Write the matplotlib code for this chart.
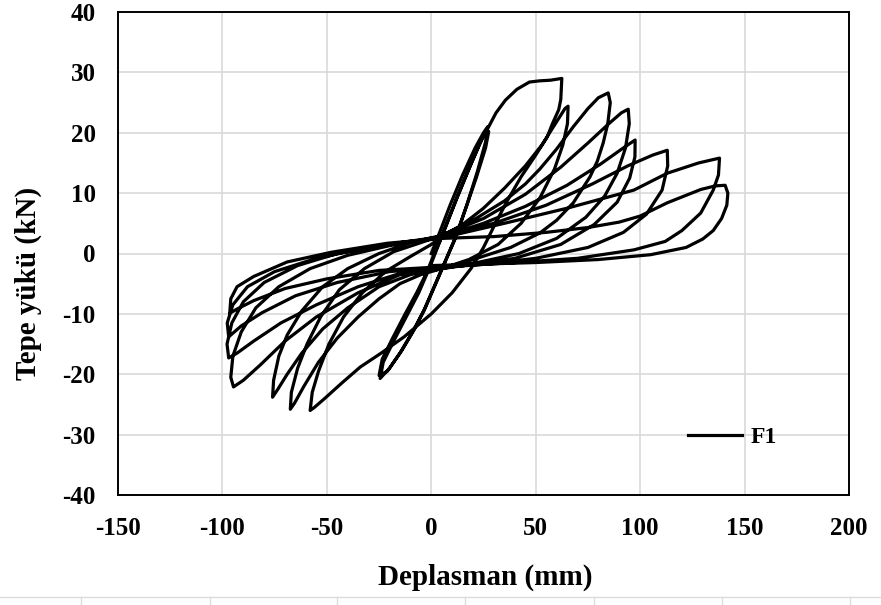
"""Cyclic top load vs displacement curve for specimen F1."""
import matplotlib
matplotlib.use("Agg")
import matplotlib.pyplot as plt
from matplotlib.lines import Line2D

plt.rcParams["font.family"] = ["Liberation Serif", "DejaVu Serif"]
plt.rcParams["font.weight"] = "bold"
plt.rcParams["axes.unicode_minus"] = False

# small cycles, +-25 mm
s1_d = [0, 4, 9, 15, 21, 25, 27, 26, 22, 17, 12, 7, 2, -3, -8, -14, -20, -24.5,
        -23, -18, -12, -6, -1, 3]
s1_f = [0, 3.5, 8, 13, 17.5, 20, 21, 18.5, 13.5, 8, 3, -1, -5, -9, -12.5, -16, -19, -20.7,
        -18, -14.5, -10.5, -6.5, -2.5, 1]
s2_d = [3, 7, 12, 18, 23, 26.5, 27.5, 26, 21.5, 16.5, 11.5, 6.5, 1.5, -3.5, -9, -15, -21, -25,
        -23.5, -18.5, -12.5, -7, -2, 2, 4]
s2_f = [1, 4.5, 9, 14, 18, 20.5, 20.2, 17.5, 12.5, 7.5, 2.5, -1.5, -5.5, -9.5, -13, -16.5, -19.5, -20.2,
        -17.5, -14, -10, -6.5, -3, 0.5, 2]

# large cycles
c1_d = [4, 8, 13, 19, 24, 27.5, 31, 35.5, 41, 47, 52, 57, 62.5,
        62, 61, 58, 55.5, 50, 43, 36, 30, 25, 19, 10, 0, -13, -24, -34, -43, -51, -56, -58,
        -57, -54, -49, -42, -33, -22, -10, 0, 5]
c1_f = [2, 5.5, 9.8, 14.8, 18.8, 21, 23.3, 25.4, 27.2, 28.4, 28.6, 28.7, 29,
        25.5, 23.8, 21.5, 19.3, 16.3, 12.7, 8.5, 4.5, 1, -2.5, -6.5, -10, -13.8, -16.5, -18.8, -21.5, -24, -25.5, -26,
        -23, -19.5, -15, -10.5, -6.5, -3, -0.5, 1.5, 2.8]
c2_d = [5, 15, 25, 35, 45, 53, 60, 64, 65.5, 65.2, 63, 59, 52, 43, 32, 18, 5,
        -5, -15, -25, -35, -45, -54, -61, -65.5, -67.5, -67, -64, -59.5, -53, -44, -32, -18, -5, 5]
c2_f = [2.8, 4.8, 7.5, 10.8, 14.5, 18, 21.8, 24, 24.4, 21.5, 18, 14, 9.2, 5, 1.5, -1, -2.5,
        -3.5, -5, -7.5, -10.5, -14, -18, -22, -24.8, -25.8, -23, -19, -15, -10.5, -6, -2.5, 0.3, 1.8, 3]
c3_d = [5, 20, 35, 45, 52, 60, 68, 75, 80, 84.7, 85.7, 84.5, 82.3, 79.5, 76, 68, 60, 52, 38, 20, 5,
        -10, -25, -40, -52, -62, -69, -73.5, -76, -75.5, -73, -69, -62, -52, -40, -25, -10, 5]
c3_f = [3, 5.5, 8.7, 11.5, 14, 17.3, 21, 24, 25.8, 26.6, 25, 21.5, 18.3, 15.3, 12.7, 8.4, 5.5, 3.4, 1, -1, -2.5,
        -3.5, -5.5, -9, -12.5, -16.5, -20, -22.5, -23.8, -21, -17, -13.5, -9.5, -5.5, -2.5, 0, 1.8, 3]
c4_d = [5, 25, 45, 62, 75, 85, 91, 94.3, 94.8, 93, 89, 83, 74, 60, 42, 22, 5,
        -15, -35, -55, -70, -82, -90, -94.7, -96, -95, -91, -84, -73, -58, -40, -20, 5]
c4_f = [3, 5.8, 9.8, 14.3, 18.3, 21.5, 23.3, 23.9, 21.5, 17.5, 13.3, 9.5, 6, 2.5, 0, -1.5, -2.5,
        -3.5, -6.5, -10.5, -14.5, -18.5, -21, -22.1, -20.5, -17, -13, -9, -5.5, -2.5, -0.3, 1.3, 2.8]
c5_d = [5, 25, 45, 65, 81, 92, 97.6, 97.5, 95, 89, 78, 62, 40, 20, 5,
        -15, -35, -55, -72, -85, -93, -97, -97.8, -95.5, -90, -80, -64, -45, -25, 5]
c5_f = [2.8, 5, 7.8, 11.3, 14.8, 17.5, 18.8, 16, 12.5, 8.5, 4.8, 1.5, -0.8, -1.8, -2.5,
        -3.3, -5.5, -8.5, -11.5, -14.5, -16.5, -17.3, -15, -11.5, -8, -4.8, -2, 0, 1.3, 2.8]
c6_d = [5, 30, 55, 77, 94, 106, 113, 113.2, 110.5, 103, 92, 75, 50, 25, 5,
        -20, -45, -65, -81, -91, -97, -97.7, -95, -88, -75, -55, -30, 5]
c6_f = [2.8, 5, 8, 11.5, 14.5, 16.3, 17.1, 14.5, 10.5, 6.5, 3.5, 1, -0.8, -1.8, -2.3,
        -3, -4.8, -7, -9.8, -12, -13.8, -11.5, -8.5, -5.5, -3, -0.8, 1, 2.6]
c7_d = [5, 35, 65, 97, 113, 128, 138, 137.5, 135, 129, 120, 112, 97, 70, 40, 5,
        -25, -50, -70, -85, -93, -96.5, -96, -93, -85, -69, -48, -21, 5]
c7_f = [2.6, 5, 7.5, 10.5, 13.3, 15, 15.8, 13, 10.5, 6.7, 3.8, 2, 0.6, -0.8, -1.5, -2.2,
        -2.8, -4.2, -5.8, -7.8, -9.2, -9.9, -7.5, -5.5, -3.8, -1.4, 0.2, 1.7, 2.5]
c8_d = [5, 30, 55, 75, 90, 100, 113, 129, 136, 140.7, 142, 141.5, 139, 135, 130, 122, 105, 80, 50, 20, 0]
c8_f = [2.5, 2.8, 3.5, 4.3, 5.2, 6.2, 8.4, 10.6, 11.2, 11.3, 10, 8, 5.8, 3.8, 2.4, 1, -0.2, -1, -1.5, -1.8, -2]

disp = s1_d + s2_d + c1_d + c2_d + c3_d + c4_d + c5_d + c6_d + c7_d + c8_d
load = s1_f + s2_f + c1_f + c2_f + c3_f + c4_f + c5_f + c6_f + c7_f + c8_f

fig = plt.figure(figsize=(8.81, 6.05), dpi=100)
ax = fig.add_axes([118 / 881, 1 - 495 / 605, 731 / 881, 483 / 605])
ax.plot(disp, load, color="black", lw=2.3, label="F1", solid_joinstyle="round")

ax.set_xlim(-150, 200)
ax.set_ylim(-40, 40)
ax.set_xticks(range(-150, 201, 50))
ax.set_yticks(range(-40, 41, 10))
ax.grid(True, color="#d9d9d9", lw=1.2)
ax.set_axisbelow(True)
ax.tick_params(axis="both", length=0, labelsize=18)
ax.tick_params(axis="x", pad=16)
ax.tick_params(axis="y", pad=16)
for s in ax.spines.values():
    s.set_color("black")
    s.set_linewidth(1.4)

ax.set_xlabel("Deplasman (mm)", fontsize=21, fontweight="bold")
ax.set_ylabel("Tepe yükü (kN)", fontsize=21, fontweight="bold")
ax.xaxis.set_label_coords(0.503, -0.143)
ax.yaxis.set_label_coords(-0.104, 0.437)

ax.legend(loc="center left", bbox_to_anchor=(0.78, 0.12), frameon=False,
          fontsize=17, handlelength=2.3, handletextpad=0.35,
          borderpad=0, borderaxespad=0)

# spreadsheet cell lines under the chart
ybot = 1 - 597 / 605
fig.add_artist(Line2D([0, 1], [ybot, ybot], transform=fig.transFigure,
                      color="#dcdcdc", lw=1))
for px in [81, 210, 337, 465, 594, 722, 850]:
    fig.add_artist(Line2D([px / 881] * 2, [0, ybot], transform=fig.transFigure,
                          color="#dcdcdc", lw=1))

fig.savefig("out.png", dpi=100)
